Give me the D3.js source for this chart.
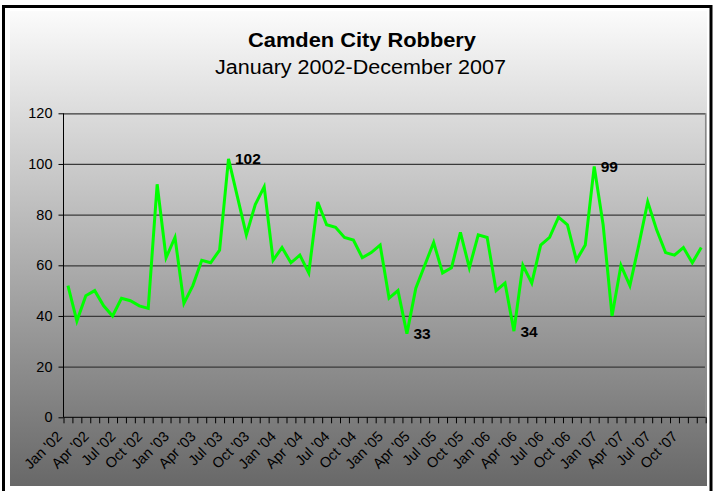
<!DOCTYPE html>
<html>
<head>
<meta charset="utf-8">
<script src="https://cdn.jsdelivr.net/npm/d3@7"></script>
<style>
  html, body { margin: 0; padding: 0; background: #ffffff; }
  svg { display: block; font-family: "Liberation Sans", Arial, sans-serif; }
</style>
</head>
<body>
<svg id="chart" width="714" height="491"></svg>
<script>
// ---- data ----
const monthNames = ["Jan", "Feb", "Mar", "Apr", "May", "Jun", "Jul", "Aug", "Sep", "Oct", "Nov", "Dec"];
const years = ["02", "03", "04", "05", "06", "07"];
const categories = years.flatMap(yy => monthNames.map(m => m + " '" + yy));

const robberies = [
  52, 38, 48, 50, 44, 40, 47, 46, 44, 43, 92, 63,   // 2002
  71, 45, 52, 62, 61, 66, 102, 87, 72, 84, 91, 62,  // 2003
  67, 61, 64, 57, 85, 76, 75, 71, 70, 63, 65, 68,   // 2004
  47, 50, 33, 51, 60, 69, 57, 59, 73, 59, 72, 71,   // 2005
  50, 53, 34, 60, 53, 68, 71, 79, 76, 62, 68, 99,   // 2006
  76, 40, 60, 52, 68, 85, 74, 65, 64, 67, 61, 67    // 2007
];

const yTicks = [0, 20, 40, 60, 80, 100, 120];
const xTickLabels = categories.filter((c, i) => i % 3 === 0);
const labeledMonths = ["Jul '03", "Mar '05", "Mar '06", "Dec '06"];

const titleText = "Camden City Robbery";
const subtitleText = "January 2002-December 2007";

// ---- layout ----
const W = 714, H = 491;
const plot = { left: 63.5, right: 705.7, top: 113.3, bottom: 417.3 };

const svg = d3.select("#chart");

// background gradient
const defs = svg.append("defs");
const grad = defs.append("linearGradient").attr("id", "bg")
  .attr("x1", 0).attr("y1", 0).attr("x2", 0).attr("y2", 1);
grad.append("stop").attr("offset", "0%").attr("stop-color", "#fbfbfb");
grad.append("stop").attr("offset", "100%").attr("stop-color", "#686868");

// outer frame
svg.append("rect").attr("x", 0).attr("y", 0).attr("width", W).attr("height", H).attr("fill", "#ffffff");
svg.append("rect").attr("x", 3.5).attr("y", 6.5).attr("width", 707.5).attr("height", 495)
  .attr("fill", "none").attr("stroke", "#000").attr("stroke-width", 3);
svg.append("rect").attr("x", 10).attr("y", 11).attr("width", 697).attr("height", 475)
  .attr("fill", "url(#bg)");

// scales
const x = d3.scaleBand().domain(categories).range([plot.left, plot.right]).paddingInner(0).paddingOuter(0);
const xEdge = d3.scaleLinear().domain([0, categories.length]).range([plot.left, plot.right]);
const y = d3.scaleLinear().domain([0, 120]).range([plot.bottom, plot.top]);
const cx = c => x(c) + x.bandwidth() / 2;

// gridlines
svg.append("g")
  .attr("transform", `translate(${plot.left},0)`)
  .call(d3.axisLeft(y).tickValues(yTicks.slice(1)).tickSize(-(plot.right - plot.left)).tickFormat(""))
  .call(g => g.select(".domain").remove())
  .call(g => g.selectAll("line").attr("stroke", "#3a3a3a").attr("stroke-width", 1.2));

// right border of plot area
svg.append("line")
  .attr("x1", plot.right).attr("x2", plot.right)
  .attr("y1", plot.top).attr("y2", plot.bottom)
  .attr("stroke", "#8a8a8a").attr("stroke-width", 1.5);

// y axis
svg.append("g")
  .attr("transform", `translate(${plot.left},0)`)
  .call(d3.axisLeft(y).tickValues(yTicks).tickSize(5).tickPadding(6))
  .call(g => g.select(".domain").attr("stroke", "#000").attr("d", `M0,${plot.top}V${plot.bottom}`))
  .call(g => g.selectAll("line").attr("stroke", "#000"))
  .call(g => g.selectAll("text").attr("fill", "#000").attr("font-size", 14.5)
    .attr("font-family", "'Liberation Sans', Arial, sans-serif"));

// x axis tick marks at category boundaries
svg.append("g")
  .attr("transform", `translate(0,${plot.bottom})`)
  .call(d3.axisBottom(xEdge).tickValues(d3.range(categories.length + 1)).tickSize(6).tickFormat(""))
  .call(g => g.select(".domain").attr("stroke", "#000").attr("d", `M${plot.left},0H${plot.right}`))
  .call(g => g.selectAll("line").attr("stroke", "#000"));

// x axis labels
svg.append("g")
  .attr("transform", `translate(0,${plot.bottom})`)
  .call(d3.axisBottom(x).tickValues(xTickLabels).tickSize(0).tickPadding(0))
  .call(g => g.select(".domain").remove())
  .call(g => g.selectAll(".tick text")
    .attr("font-size", 14.5)
    .attr("font-family", "'Liberation Sans', Arial, sans-serif")
    .attr("fill", "#000")
    .attr("text-anchor", "end")
    .attr("dy", 0)
    .attr("y", 0)
    .attr("transform", "translate(-5,20) rotate(-45)"));

// line
const line = d3.line()
  .x((d, i) => cx(categories[i]))
  .y(d => y(d));
svg.append("path")
  .datum(robberies)
  .attr("fill", "none")
  .attr("stroke", "#00ff00")
  .attr("stroke-width", 3)
  .attr("stroke-linejoin", "miter")
  .attr("d", line);

// data labels
svg.append("g")
  .selectAll("text")
  .data(labeledMonths)
  .join("text")
  .attr("x", c => cx(c) + 6.5)
  .attr("y", c => y(robberies[categories.indexOf(c)]))
  .attr("dy", "0.36em")
  .attr("font-size", 15.5)
  .attr("font-weight", "bold")
  .attr("fill", "#000")
  .text(c => robberies[categories.indexOf(c)]);

// titles
svg.append("text")
  .attr("x", 362).attr("y", 46.7)
  .attr("text-anchor", "middle")
  .attr("font-size", 20).attr("font-weight", "bold").attr("fill", "#000")
  .attr("textLength", 228).attr("lengthAdjust", "spacingAndGlyphs")
  .text(titleText);
svg.append("text")
  .attr("x", 360.5).attr("y", 74)
  .attr("text-anchor", "middle")
  .attr("font-size", 20).attr("fill", "#000")
  .attr("textLength", 291).attr("lengthAdjust", "spacingAndGlyphs")
  .text(subtitleText);
</script>
</body>
</html>
